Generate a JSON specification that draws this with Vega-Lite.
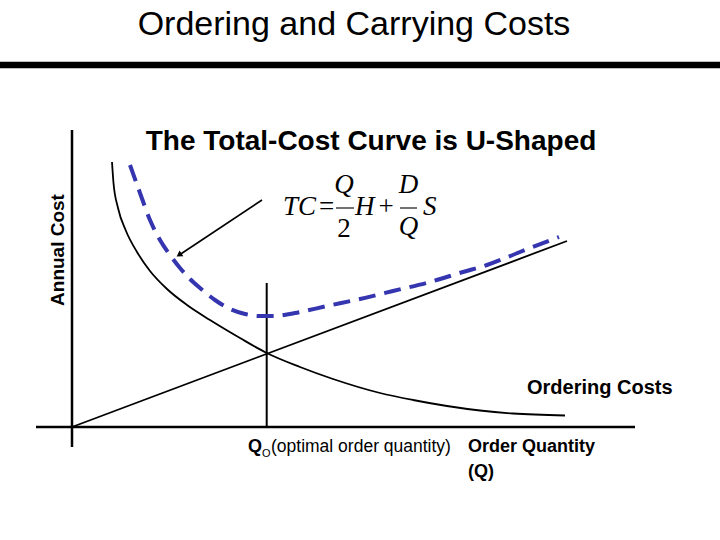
{
  "$schema": "https://vega.github.io/schema/vega-lite/v6.json",
  "width": 720,
  "height": 540,
  "padding": 0,
  "autosize": {"type": "none"},
  "background": "white",
  "config": {"view": {"stroke": null}},
  "datasets": {
    "ordering": [
      {"q": 40, "c": 265}, {"q": 41.5, "c": 244}, {"q": 46, "c": 219}, {"q": 54, "c": 196},
      {"q": 65, "c": 175}, {"q": 78, "c": 156}, {"q": 95, "c": 138}, {"q": 115, "c": 122},
      {"q": 138, "c": 107}, {"q": 168, "c": 89}, {"q": 194.7, "c": 74}, {"q": 228, "c": 60},
      {"q": 261, "c": 48}, {"q": 308, "c": 34}, {"q": 341, "c": 27}, {"q": 375, "c": 21},
      {"q": 408, "c": 16.5}, {"q": 441, "c": 13.5}, {"q": 493, "c": 11.5}
    ],
    "carrying": [
      {"q": 0, "c": 0}, {"q": 495, "c": 186}
    ],
    "total": [
      {"q": 58, "c": 262}, {"q": 68, "c": 234}, {"q": 78, "c": 207}, {"q": 88, "c": 187},
      {"q": 98, "c": 172}, {"q": 108, "c": 159}, {"q": 118, "c": 148}, {"q": 128, "c": 139},
      {"q": 143, "c": 127}, {"q": 158, "c": 118}, {"q": 173, "c": 113}, {"q": 188, "c": 111},
      {"q": 203, "c": 111}, {"q": 223, "c": 114}, {"q": 255, "c": 121}, {"q": 288, "c": 128},
      {"q": 321, "c": 136}, {"q": 358, "c": 145}, {"q": 391, "c": 155}, {"q": 415, "c": 162},
      {"q": 448, "c": 175}, {"q": 487, "c": 190}
    ],
    "rules": [
      {"q": 0, "c": -20, "q2": 0, "c2": 297, "role": "axis"},
      {"q": -36, "c": 0, "q2": 563, "c2": 0, "role": "axis"},
      {"q": 194.7, "c": 0, "q2": 194.7, "c2": 144, "role": "guide"},
      {"q": -72, "c": 362, "q2": 648, "c2": 362, "role": "bar"},
      {"q": 190, "c": 227, "q2": 108, "c2": 172.5, "role": "arrow"},
      {"q": 264, "c": 219, "q2": 282, "c2": 219, "role": "frac"},
      {"q": 328, "c": 219, "q2": 345, "c2": 219, "role": "frac"}
    ],
    "heads": [
      {"q": 107, "c": 172}
    ],
    "labels": [
      {"q": 282, "c": 392, "text": "Ordering and Carrying Costs", "role": "title"},
      {"q": 299, "c": 277, "text": "The Total-Cost Curve is U-Shaped", "role": "subtitle"},
      {"q": -14, "c": 177, "text": "Annual Cost", "role": "ylabel"},
      {"q": 455, "c": 33, "text": "Ordering Costs", "role": "boldbig"},
      {"q": 176, "c": -25, "text": "Q", "role": "boldleft"},
      {"q": 190, "c": -30, "text": "O", "role": "sub"},
      {"q": 199, "c": -25, "text": "(optimal order quantity)", "role": "plain"},
      {"q": 396, "c": -25, "text": "Order Quantity", "role": "boldleft"},
      {"q": 396, "c": -50, "text": "(Q)", "role": "boldleft"},
      {"q": 211, "c": 212, "text": "TC", "role": "mathleft"},
      {"q": 283, "c": 212, "text": "H", "role": "mathleft"},
      {"q": 351, "c": 212, "text": "S", "role": "mathleft"},
      {"q": 272, "c": 234, "text": "Q", "role": "mathcenter"},
      {"q": 336.5, "c": 234, "text": "D", "role": "mathcenter"},
      {"q": 336.5, "c": 192, "text": "Q", "role": "mathcenter"},
      {"q": 272, "c": 190, "text": "2", "role": "mathupright"},
      {"q": 254.5, "c": 212, "text": "=", "role": "mathupright"},
      {"q": 314, "c": 212, "text": "+", "role": "mathupright"}
    ]
  },
  "encoding": {
    "x": {"field": "q", "type": "quantitative", "scale": {"domain": [-72, 648], "nice": false, "zero": false}, "axis": null},
    "y": {"field": "c", "type": "quantitative", "scale": {"domain": [-113, 427], "nice": false, "zero": false}, "axis": null}
  },
  "layer": [
    {
      "data": {"name": "rules"},
      "transform": [{"filter": "datum.role === 'axis'"}],
      "mark": {"type": "rule", "color": "black", "strokeWidth": 2.5},
      "encoding": {"x2": {"field": "q2"}, "y2": {"field": "c2"}}
    },
    {
      "data": {"name": "rules"},
      "transform": [{"filter": "datum.role === 'guide'"}],
      "mark": {"type": "rule", "color": "black", "strokeWidth": 2},
      "encoding": {"x2": {"field": "q2"}, "y2": {"field": "c2"}}
    },
    {
      "data": {"name": "rules"},
      "transform": [{"filter": "datum.role === 'bar'"}],
      "mark": {"type": "rule", "color": "black", "strokeWidth": 6.5},
      "encoding": {"x2": {"field": "q2"}, "y2": {"field": "c2"}}
    },
    {
      "data": {"name": "rules"},
      "transform": [{"filter": "datum.role === 'arrow'"}],
      "mark": {"type": "rule", "color": "black", "strokeWidth": 1.6},
      "encoding": {"x2": {"field": "q2"}, "y2": {"field": "c2"}}
    },
    {
      "data": {"name": "rules"},
      "transform": [{"filter": "datum.role === 'frac'"}],
      "mark": {"type": "rule", "color": "black", "strokeWidth": 1.1},
      "encoding": {"x2": {"field": "q2"}, "y2": {"field": "c2"}}
    },
    {
      "data": {"name": "heads"},
      "mark": {"type": "point", "shape": "triangle-up", "filled": true, "color": "black", "opacity": 1, "size": 45, "angle": 236}
    },
    {
      "data": {"name": "ordering"},
      "mark": {"type": "line", "color": "black", "strokeWidth": 1.8, "interpolate": "monotone"}
    },
    {
      "data": {"name": "carrying"},
      "mark": {"type": "line", "color": "black", "strokeWidth": 1.8}
    },
    {
      "data": {"name": "total"},
      "mark": {"type": "line", "color": "#3535B0", "strokeWidth": 4, "strokeDash": [17, 9], "interpolate": "monotone"}
    },
    {
      "data": {"name": "labels"},
      "transform": [{"filter": "datum.role === 'title'"}],
      "mark": {"type": "text", "font": "Liberation Sans", "fontSize": 34, "align": "center", "baseline": "alphabetic", "color": "black"},
      "encoding": {"text": {"field": "text"}}
    },
    {
      "data": {"name": "labels"},
      "transform": [{"filter": "datum.role === 'subtitle'"}],
      "mark": {"type": "text", "font": "Liberation Sans", "fontSize": 28, "fontWeight": "bold", "align": "center", "baseline": "alphabetic", "color": "black"},
      "encoding": {"text": {"field": "text"}}
    },
    {
      "data": {"name": "labels"},
      "transform": [{"filter": "datum.role === 'ylabel'"}],
      "mark": {"type": "text", "font": "Liberation Sans", "fontSize": 19, "fontWeight": "bold", "align": "center", "baseline": "middle", "angle": 270, "color": "black"},
      "encoding": {"text": {"field": "text"}}
    },
    {
      "data": {"name": "labels"},
      "transform": [{"filter": "datum.role === 'boldbig'"}],
      "mark": {"type": "text", "font": "Liberation Sans", "fontSize": 20, "fontWeight": "bold", "align": "left", "baseline": "alphabetic", "color": "black"},
      "encoding": {"text": {"field": "text"}}
    },
    {
      "data": {"name": "labels"},
      "transform": [{"filter": "datum.role === 'boldleft'"}],
      "mark": {"type": "text", "font": "Liberation Sans", "fontSize": 18, "fontWeight": "bold", "align": "left", "baseline": "alphabetic", "color": "black"},
      "encoding": {"text": {"field": "text"}}
    },
    {
      "data": {"name": "labels"},
      "transform": [{"filter": "datum.role === 'sub'"}],
      "mark": {"type": "text", "font": "Liberation Sans", "fontSize": 11, "align": "left", "baseline": "alphabetic", "color": "black"},
      "encoding": {"text": {"field": "text"}}
    },
    {
      "data": {"name": "labels"},
      "transform": [{"filter": "datum.role === 'plain'"}],
      "mark": {"type": "text", "font": "Liberation Sans", "fontSize": 17.5, "align": "left", "baseline": "alphabetic", "color": "black"},
      "encoding": {"text": {"field": "text"}}
    },
    {
      "data": {"name": "labels"},
      "transform": [{"filter": "datum.role === 'mathleft'"}],
      "mark": {"type": "text", "font": "Liberation Serif", "fontStyle": "italic", "fontSize": 27, "align": "left", "baseline": "alphabetic", "color": "black"},
      "encoding": {"text": {"field": "text"}}
    },
    {
      "data": {"name": "labels"},
      "transform": [{"filter": "datum.role === 'mathcenter'"}],
      "mark": {"type": "text", "font": "Liberation Serif", "fontStyle": "italic", "fontSize": 27, "align": "center", "baseline": "alphabetic", "color": "black"},
      "encoding": {"text": {"field": "text"}}
    },
    {
      "data": {"name": "labels"},
      "transform": [{"filter": "datum.role === 'mathupright'"}],
      "mark": {"type": "text", "font": "Liberation Serif", "fontSize": 27, "align": "center", "baseline": "alphabetic", "color": "black"},
      "encoding": {"text": {"field": "text"}}
    }
  ]
}
